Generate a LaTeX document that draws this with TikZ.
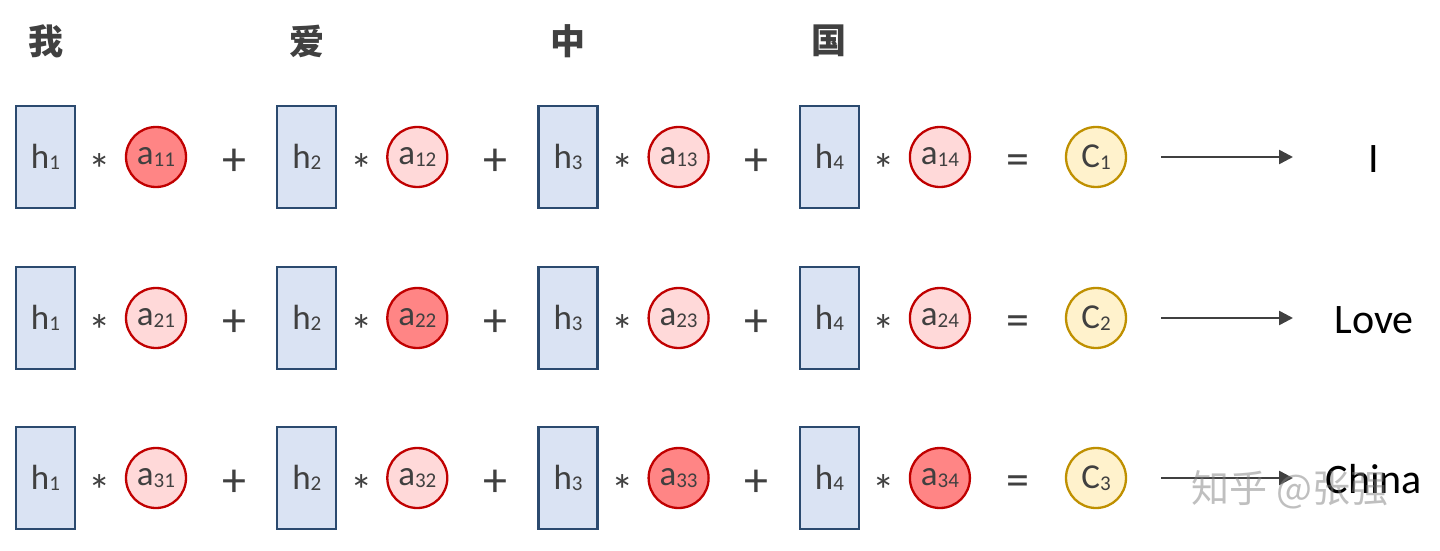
\documentclass[tikz,border=0pt]{standalone}
\usepackage{fontspec}
\setmainfont{Carlito}
\newfontfamily\cjk{Noto Sans CJK SC}
\usetikzlibrary{arrows.meta}
\definecolor{hfill}{HTML}{DAE3F3}
\definecolor{hdraw}{HTML}{2B4A6F}
\definecolor{alight}{HTML}{FFD9D9}
\definecolor{adark}{HTML}{FF8585}
\definecolor{adraw}{HTML}{C00000}
\definecolor{cfill}{HTML}{FFF2CC}
\definecolor{cdraw}{HTML}{BF9000}
\definecolor{txt}{HTML}{404040}
\newcommand\subl[2]{#1{\fontsize{21}{21}\selectfont\raisebox{-1.5pt}{#2}}}
\tikzset{
  x=1pt, y=-1pt,
  hbox/.style={draw=hdraw, fill=hfill, line width=2.3pt, minimum width=59pt, minimum height=102pt, inner sep=0pt, text=txt, font=\fontsize{35}{35}\selectfont},
  abox/.style={circle, draw=adraw, fill=alight, line width=2.3pt, minimum size=60pt, inner sep=0pt, text=txt, font=\fontsize{35}{35}\selectfont},
  ahi/.style={abox, fill=adark},
  cbox/.style={circle, draw=cdraw, fill=cfill, line width=2.3pt, minimum size=60pt, inner sep=0pt, text=txt, font=\fontsize{35}{35}\selectfont},
  plustext/.style={anchor=base, inner sep=0pt, text=txt, font=\fontsize{48}{48}\selectfont},
  eqtext/.style={anchor=base, inner sep=0pt, text=txt, font=\fontsize{46}{46}\selectfont},
  asttext/.style={anchor=base, inner sep=0pt, text=txt, font=\fontsize{45}{45}\selectfont},
  word/.style={anchor=base, inner sep=0pt, text=black, font=\fontsize{42}{42}\selectfont},
  zh/.style={inner sep=0pt, text=txt, font=\fontsize{35}{35}\selectfont\cjk\bfseries},
  arr/.style={draw=txt, line width=2.5pt, -{Triangle[length=14pt,width=14pt]}},
}
\begin{document}
\begin{tikzpicture}
\useasboundingbox (0,0) rectangle (1440,551);
% Chinese headers
\foreach \ch [count=\i from 0] in {我,爱,中,国}{
  \node[zh] (z\i) at (45.5+261.3*\i,41) {\ch};
}
\foreach \r/\y in {1/157,2/318,3/478}{
  \foreach \c in {1,2,3,4}{
    \pgfmathsetmacro\dx{261.3*(\c-1)}
    \node[hbox] (h\r\c) at (45.5+\dx,\y) {\subl{h}{\c}};
    \node[asttext] (s\r\c) at (100+\dx,\y+28) {*};
  }
  \foreach \c in {1,2,3}{
    \pgfmathsetmacro\dx{261.3*(\c-1)}
    \node[plustext] (p\r\c) at (234+\dx,\y+18) {+};
  }
  \node[eqtext] (eq\r) at (1018,\y+17) {=};
  \node[cbox] (c\r) at (1096,\y) {\subl{C}{\r}};
  \coordinate (e\r) at (1293,\y);
  \draw[arr, shorten <=34pt] (c\r) -- (e\r);
}
% attention circles
\foreach \r/\c/\st in {1/1/ahi,1/2/abox,1/3/abox,1/4/abox,
                      2/1/abox,2/2/ahi,2/3/abox,2/4/abox,
                      3/1/abox,3/2/abox,3/3/ahi,3/4/ahi}{
  \pgfmathsetmacro\dx{261.3*(\c-1)}
  \pgfmathsetmacro\yy{\r==1 ? 157 : (\r==2 ? 318 : 478)}
  \node[\st] (a\r\c) at (156+\dx,\yy) {\subl{a}{\r\c}};
}
\node[word] (w1) at (1374,172) {I};
\node[word] (w2) at (1374,333) {Love};
\node[word] (w3) at (1374,493) {China};
\node[inner sep=0pt, text=gray, opacity=0.5, font=\fontsize{38}{38}\selectfont\cjk] (wm) at (1290,490) {知乎 @张强};
\end{tikzpicture}
\end{document}
